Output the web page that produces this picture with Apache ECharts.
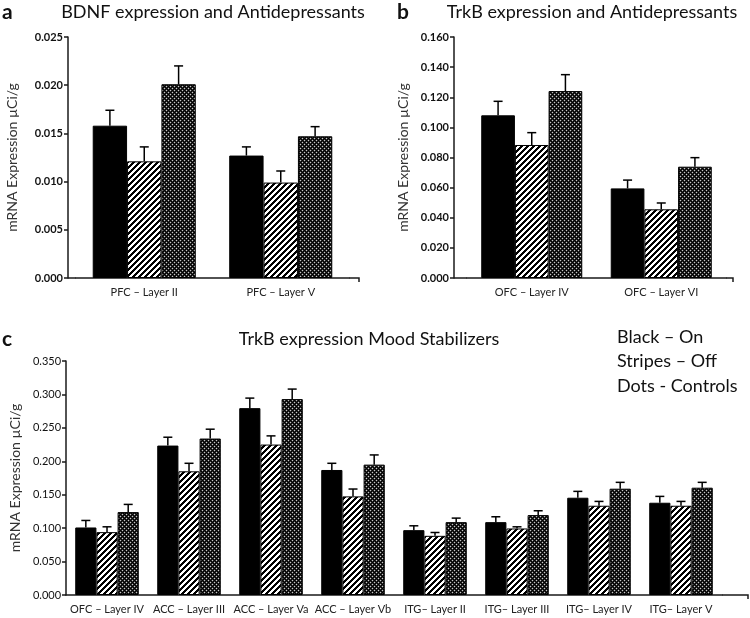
<!DOCTYPE html>
<html><head><meta charset="utf-8">
<script src="https://cdn.jsdelivr.net/npm/echarts@6/dist/echarts.min.js"></script>
<style>html,body{margin:0;padding:0;background:#fff}#c{width:750px;height:618px}</style>
</head><body><div id="c"></div>
<script>
// ---------- DATA ----------
const seriesNames = ['On', 'Off', 'Controls'];

const catsA = ['PFC – Layer II', 'PFC – Layer V'];
const onA   = [0.0158, 0.0127];
const offA  = [0.0121, 0.0099];
const ctlA  = [0.0201, 0.0147];
const onErrA  = [0.0016, 0.0009];
const offErrA = [0.0015, 0.0012];
const ctlErrA = [0.0019, 0.0010];
const yTicksA = [0.000, 0.005, 0.010, 0.015, 0.020, 0.025];

const catsB = ['OFC – Layer IV', 'OFC – Layer VI'];
const onB   = [0.108, 0.0595];
const offB  = [0.0883, 0.0456];
const ctlB  = [0.1241, 0.0739];
const onErrB  = [0.0093, 0.0055];
const offErrB = [0.0082, 0.0042];
const ctlErrB = [0.0109, 0.0060];
const yTicksB = [0.000, 0.020, 0.040, 0.060, 0.080, 0.100, 0.120, 0.140, 0.160];

const catsC = ['OFC – Layer IV', 'ACC – Layer III', 'ACC – Layer Va', 'ACC – Layer Vb',
               'ITG– Layer II', 'ITG– Layer III', 'ITG– Layer IV', 'ITG– Layer V'];
const onC   = [0.101, 0.2235, 0.2795, 0.187, 0.097, 0.109, 0.1455, 0.138];
const offC  = [0.094, 0.185, 0.225, 0.1475, 0.0885, 0.0995, 0.1335, 0.1335];
const ctlC  = [0.124, 0.234, 0.293, 0.195, 0.109, 0.1195, 0.159, 0.1605];
const onErrC  = [0.0105, 0.0125, 0.015, 0.010, 0.0065, 0.008, 0.0095, 0.0095];
const offErrC = [0.008, 0.012, 0.013, 0.011, 0.005, 0.0025, 0.0065, 0.0065];
const ctlErrC = [0.0115, 0.014, 0.015, 0.0145, 0.006, 0.0065, 0.0095, 0.008];
const yTicksC = [0.000, 0.050, 0.100, 0.150, 0.200, 0.250, 0.300, 0.350];

const titleA = 'BDNF expression and Antidepressants';
const titleB = 'TrkB expression and Antidepressants';
const titleC = 'TrkB expression Mood Stabilizers';
const legendLines = ['Black – On', 'Stripes – Off', 'Dots - Controls'];
const yName = 'mRNA Expression µCi/g';

// ---------- PATTERNS ----------
function makeCanvas(w, h, fn) {
  const cv = document.createElement('canvas');
  cv.width = w; cv.height = h;
  const ctx = cv.getContext('2d');
  const img = ctx.createImageData(w, h);
  for (let y = 0; y < h; y++) for (let x = 0; x < w; x++) {
    const g = fn(x, y); const i = (y * w + x) * 4;
    img.data[i] = g; img.data[i+1] = g; img.data[i+2] = g; img.data[i+3] = 255;
  }
  ctx.putImageData(img, 0, 0);
  return cv;
}
const stripeCanvas = makeCanvas(6, 6, (x, y) => ((x + y) % 6) < 3 ? 0 : 255);
const dotCanvas = makeCanvas(4, 4, (x, y) => {
  if ((x === 0 && y === 0) || (x === 2 && y === 2)) return 200;
  if ((x + y) % 2 === 1) return 45;
  return 0;
});
const fills = [
  '#000',
  { image: stripeCanvas, repeat: 'repeat' },
  { image: dotCanvas, repeat: 'repeat' }
];

// ---------- LAYOUT ----------
const W = 750, H = 618;
const grids = [
  { left: 76, right: W - 349, top: 37, bottom: H - 278, yAxisX: 68, axisEnd: 359, gap: 0.245, cap: 9, nameGap: 49 },
  { left: 467, right: W - 726, top: 37, bottom: H - 278, yAxisX: 454, axisEnd: 733, gap: 0.22, cap: 9, nameGap: 44 },
  { left: 61, right: W - 722, top: 361, bottom: H - 595, yAxisX: 61, axisEnd: 748, gap: 0.225, cap: 9, nameGap: 44 }
];
const panels = [
  { cats: catsA, vals: [onA, offA, ctlA], errs: [onErrA, offErrA, ctlErrA], ticks: yTicksA, bold: true },
  { cats: catsB, vals: [onB, offB, ctlB], errs: [onErrB, offErrB, ctlErrB], ticks: yTicksB, bold: true },
  { cats: catsC, vals: [onC, offC, ctlC], errs: [onErrC, offErrC, ctlErrC], ticks: yTicksC, bold: false }
];

const FONT = 'Lato';
const axisColor = '#1a1a1a';

const option = {
  backgroundColor: '#fff',
  animation: false,
  grid: grids.map(g => ({ left: g.left, right: g.right, top: g.top, bottom: g.bottom, containLabel: false })),
  xAxis: panels.map((p, i) => ({
    type: 'category', gridIndex: i, data: p.cats,
    axisLine: { lineStyle: { color: axisColor, width: 1.5 } },
    axisTick: { show: false },
    axisLabel: { color: '#222', fontFamily: FONT, fontSize: 11, margin: 9, interval: 0 }
  })),
  yAxis: panels.map((p, i) => {
    const step = p.ticks[1] - p.ticks[0];
    return {
      type: 'value', gridIndex: i,
      min: p.ticks[0], max: p.ticks[p.ticks.length - 1], interval: step,
      offset: grids[i].left - grids[i].yAxisX,
      splitLine: { show: false },
      axisLine: { show: true, lineStyle: { color: axisColor, width: 1.5 } },
      axisTick: { show: true, length: 4, lineStyle: { color: axisColor, width: 1.5 } },
      axisLabel: { color: '#111', fontFamily: FONT, fontSize: 11, fontWeight: p.bold ? 'bold' : 'normal', margin: 5,
                   formatter: v => v.toFixed(3) },
      name: yName, nameLocation: 'middle', nameRotate: 90, nameGap: grids[i].nameGap,
      nameTextStyle: { color: '#333', fontFamily: FONT, fontSize: 14 }
    };
  }),
  series: [],
  graphic: []
};

panels.forEach((p, gi) => {
  const g = grids[gi];
  p.vals.forEach((vals, si) => {
    option.series.push({
      type: 'bar', name: seriesNames[si] + gi, xAxisIndex: gi, yAxisIndex: gi,
      data: vals, barGap: '0%', barCategoryGap: (g.gap * 100) + '%',
      itemStyle: { color: fills[si], borderColor: '#000', borderWidth: 1 }
    });
  });
  p.vals.forEach((vals, si) => {
    const errs = p.errs[si];
    option.series.push({
      type: 'custom', xAxisIndex: gi, yAxisIndex: gi, z: 5,
      data: vals.map((v, k) => [k, v, v + errs[k]]),
      renderItem: (params, api) => {
        const cat = api.value(0), mean = api.value(1), top = api.value(2);
        const band = api.size([1, 0])[0];
        const barW = band * (1 - g.gap) / 3;
        const base = api.coord([cat, mean]);
        const x = base[0] + (si - 1) * barW;
        const yt = api.coord([cat, top])[1];
        const st = { stroke: '#000', lineWidth: 1.5 };
        return { type: 'group', children: [
          { type: 'line', shape: { x1: x, y1: base[1], x2: x, y2: yt }, style: st },
          { type: 'line', shape: { x1: x - g.cap / 2, y1: yt, x2: x + g.cap / 2, y2: yt }, style: st }
        ]};
      }
    });
  });
  // extend x-axis line from the y axis to the grid, and beyond the last category
  const yb = H - g.bottom;
  option.graphic.push({ type: 'line', shape: { x1: g.yAxisX, y1: yb, x2: g.left, y2: yb },
                        style: { stroke: axisColor, lineWidth: 1.5 } });
  option.graphic.push({ type: 'polyline', shape: { points: [[W - g.right, yb], [g.axisEnd, yb], [g.axisEnd, yb + 4]] },
                        style: { stroke: axisColor, lineWidth: 1.5, fill: null } });
});

// titles and legend text
const tStyle = (txt, x, y, size, weight, align) => ({
  type: 'text', x: x, y: y,
  style: { text: txt, fill: '#111', font: `${weight} ${size}px ${FONT}`, textAlign: align || 'left', textVerticalAlign: 'middle' }
});
option.graphic.push(tStyle('a', 2, 12, 21, 'bold'));
option.graphic.push(tStyle(titleA, 213, 12, 18, 'normal', 'center'));
option.graphic.push(tStyle('b', 397, 12, 21, 'bold'));
option.graphic.push(tStyle(titleB, 592, 12, 18, 'normal', 'center'));
option.graphic.push(tStyle('c', 2, 339, 21, 'bold'));
option.graphic.push(tStyle(titleC, 369, 339, 18, 'normal', 'center'));
legendLines.forEach((t, i) => option.graphic.push(tStyle(t, 617, 337 + i * 24.5, 18, 'normal')));

const chart = echarts.init(document.getElementById('c'), null, { renderer: 'canvas' });
chart.setOption(option);
</script></body></html>
